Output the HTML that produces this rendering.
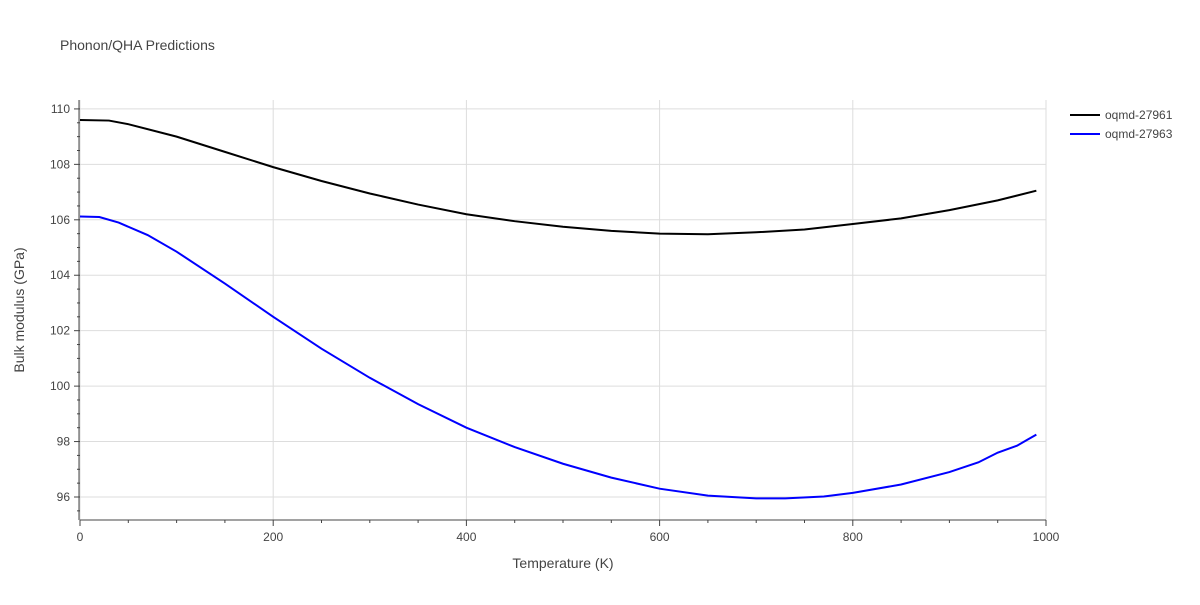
<!DOCTYPE html>
<html><head><meta charset="utf-8"><style>
body{margin:0;background:#fff;font-family:"Liberation Sans",sans-serif}
text{font-family:"Liberation Sans",sans-serif}
</style></head><body>
<svg id="chart" width="1200" height="600" xmlns="http://www.w3.org/2000/svg">
<text x="60" y="50" font-size="14" fill="#444">Phonon/QHA Predictions</text>
<g id="grid"></g>
<g id="axes"></g>
<g id="series"></g>
<text x="563" y="568" font-size="14" fill="#444" text-anchor="middle">Temperature (K)</text>
<text transform="translate(24,310) rotate(-90)" font-size="14" fill="#444" text-anchor="middle">Bulk modulus (GPa)</text>
<g>
<line x1="1070" y1="115" x2="1100" y2="115" stroke="#000" stroke-width="2"/>
<text x="1105" y="119" font-size="12" fill="#444">oqmd-27961</text>
<line x1="1070" y1="134" x2="1100" y2="134" stroke="#0000ff" stroke-width="2"/>
<text x="1105" y="138" font-size="12" fill="#444">oqmd-27963</text>
</g>
</svg>
<script>
const xTicks=[0,200,400,600,800,1000];
const yTicks=[96,98,100,102,104,106,108,110];
const tA=[0,30,50,100,150,200,250,300,350,400,450,500,550,600,650,700,750,800,850,900,950,990];
const vA=[109.6,109.58,109.45,109.0,108.45,107.9,107.4,106.95,106.55,106.2,105.95,105.75,105.6,105.5,105.48,105.55,105.65,105.85,106.05,106.35,106.7,107.05];
const tB=[0,20,40,70,100,150,200,250,300,350,400,450,500,550,600,650,700,730,770,800,850,900,930,950,970,980,990];
const vB=[106.12,106.1,105.9,105.45,104.85,103.7,102.5,101.35,100.3,99.35,98.5,97.8,97.2,96.7,96.3,96.05,95.95,95.95,96.02,96.15,96.45,96.9,97.25,97.6,97.85,98.05,98.25];
const X0=80,X1=1046,YT=100,YB=520;
const xs=t=>X0+(t-0)/1000*(X1-X0);
const ys=v=>497-(v-96)*27.72;
const NS="http://www.w3.org/2000/svg";
const g=document.getElementById('grid'),ax=document.getElementById('axes'),se=document.getElementById('series');
function mk(tag,at,p){const e=document.createElementNS(NS,tag);for(const k in at)e.setAttribute(k,at[k]);p.appendChild(e);return e;}
xTicks.forEach(t=>{
 const l=mk('line',{x1:xs(t),x2:xs(t),y1:YT,y2:YB,stroke:'#ddd'},g);
 
 
 const tx=mk('text',{x:xs(t),y:541,'font-size':12,fill:'#444','text-anchor':'middle'},ax);tx.textContent=t;
 
 
});
for(let t=0;t<=1000;t+=50){mk('line',{x1:xs(t),x2:xs(t),y1:YB,y2:YB+(t%200==0?6:3),stroke:'#444'},ax);}
yTicks.forEach(v=>{
 const l=mk('line',{x1:X0,x2:X1,y1:ys(v),y2:ys(v),stroke:'#ddd'},g);
 
 
 const tx=mk('text',{x:70,y:ys(v)+4,'font-size':12,fill:'#444','text-anchor':'end'},ax);tx.textContent=v;
 
 
});
for(let v=95.5;v<=110.5;v+=1){if(ys(v)>YT&&ys(v)<YB)mk('line',{x1:X0-(Number.isInteger(v/2)?6:3),x2:X0,y1:ys(v),y2:ys(v),stroke:'#444'},ax);}
for(let v=96;v<=110;v+=1){mk('line',{x1:X0-(v%2==0?6:3),x2:X0,y1:ys(v),y2:ys(v),stroke:'#444'},ax);}
mk('line',{x1:X0-1,x2:X0-1,y1:YT,y2:YB,stroke:'#444'},ax);
mk('line',{x1:X0,x2:X1,y1:YB,y2:YB,stroke:'#444'},ax);
function line(t,v,c,name){const p=mk('path',{d:t.map((x,i)=>(i?'L':'M')+xs(x)+','+ys(v[i])).join(''),fill:'none',stroke:c,'stroke-width':2},se);
 
 }
line(tA,vA,'#000','series-oqmd-27961');
line(tB,vB,'#0000ff','series-oqmd-27963');
</script>
</body></html>
